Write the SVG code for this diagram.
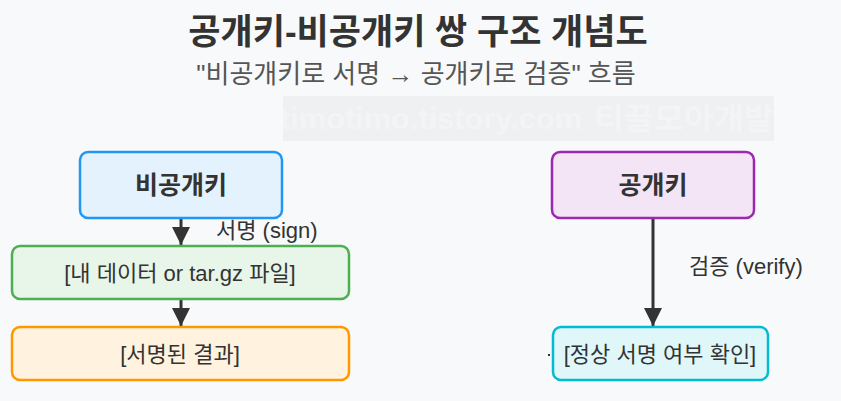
<svg xmlns="http://www.w3.org/2000/svg" width="841" height="401" viewBox="0 0 841 401">
<defs>
<style>
text{font-family:"Liberation Sans","Noto Sans CJK KR",sans-serif;fill:#333}
.title{font-size:35px;font-weight:bold;text-anchor:middle}
.sub{font-size:26px;fill:#555;text-anchor:middle}
.node rect{stroke-width:2.5}
.bold{font-size:25px;font-weight:bold;text-anchor:middle}
.lbl{font-size:22px;text-anchor:middle}
.el{font-size:22px;fill:#333}
.wm{font-size:30px;font-weight:bold;fill:#f3f4f5}
</style>
<marker id="ah" viewBox="0 0 10 10" refX="10" refY="5" markerWidth="6" markerHeight="7.5" markerUnits="strokeWidth" orient="auto">
<path d="M0,0 L10,5 L0,10 z" fill="#333"/>
</marker>
<clipPath id="wc"><rect x="283" y="96" width="491" height="45"/></clipPath>
</defs>
<rect x="0" y="0" width="841" height="401" fill="#f8f9fa"/>
<text class="title" x="418" y="44">공개키-비공개키 쌍 구조 개념도</text>
<text class="sub" x="416" y="83">"비공개키로 서명 → 공개키로 검증" 흐름</text>
<g id="watermark" clip-path="url(#wc)">
<rect x="283" y="96" width="491" height="45" fill="#eff0f2"/>
<text class="wm" x="280" y="129" textLength="302" lengthAdjust="spacingAndGlyphs">timotimo.tistory.com</text>
<text class="wm" x="594" y="129" textLength="180" lengthAdjust="spacingAndGlyphs">티끌모아개발</text>
</g>
<g id="connectors" stroke="#333" stroke-width="3" fill="none">
<line x1="181" y1="219" x2="181" y2="245" marker-end="url(#ah)"/>
<line x1="181" y1="300" x2="181" y2="326" marker-end="url(#ah)"/>
<line x1="653" y1="219" x2="653" y2="326" marker-end="url(#ah)"/>
</g>
<g id="edge-labels">
<text class="el" x="216" y="238">서명 (sign)</text>
<text class="el" x="689" y="274">검증 (verify)</text>
</g>
<g id="private-key" class="node">
<rect x="80" y="152" width="202" height="66" rx="8" fill="#e3f2fd" stroke="#2196f3"/>
<text class="bold" x="181" y="194">비공개키</text>
</g>
<g id="data" class="node">
<rect x="12" y="246" width="337" height="53" rx="8" fill="#e8f5e9" stroke="#4caf50"/>
<text class="lbl" x="180" y="281">[내 데이터 or tar.gz 파일]</text>
</g>
<g id="signed" class="node">
<rect x="12" y="327" width="337" height="53" rx="8" fill="#fff3e0" stroke="#ff9800"/>
<text class="lbl" x="180" y="362">[서명된 결과]</text>
</g>
<g id="public-key" class="node">
<rect x="552" y="152" width="202" height="66" rx="8" fill="#f3e5f5" stroke="#9c27b0"/>
<text class="bold" x="653" y="194">공개키</text>
</g>
<g id="verify" class="node">
<rect x="553" y="327" width="215" height="53" rx="8" fill="#e0f7fa" stroke="#00bcd4"/>
<text class="lbl" x="660" y="362">[정상 서명 여부 확인]</text>
</g>
<rect x="548" y="354" width="2" height="2" fill="#333"/>
</svg>
